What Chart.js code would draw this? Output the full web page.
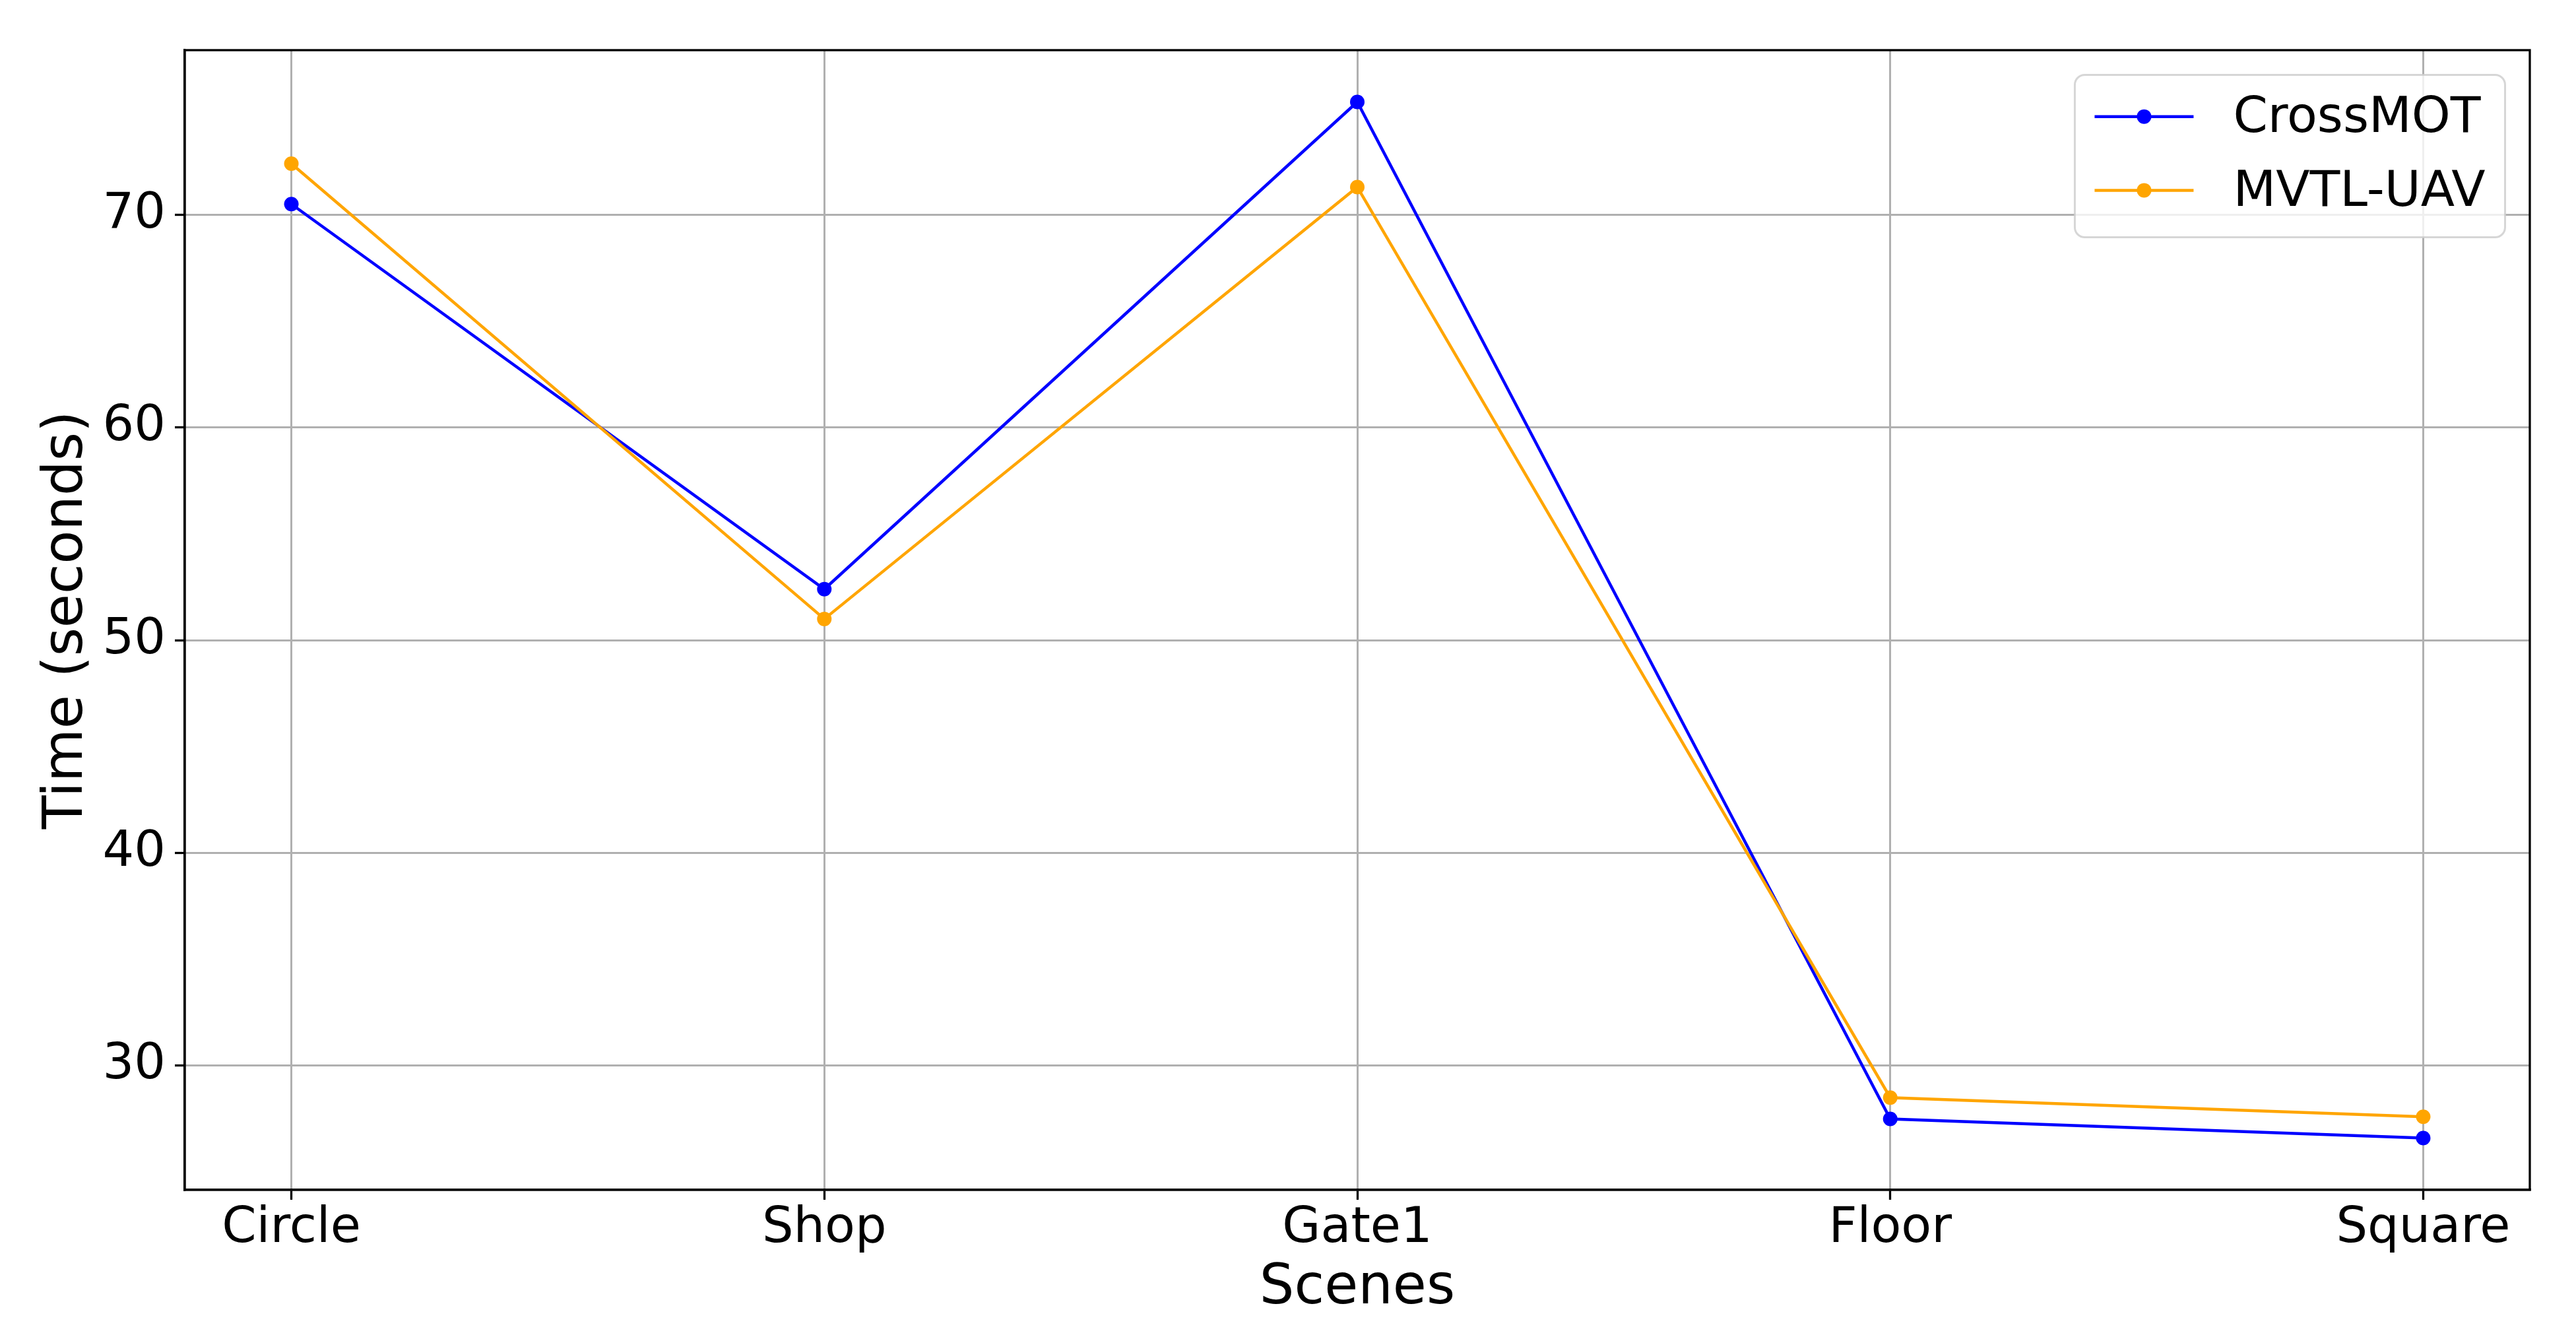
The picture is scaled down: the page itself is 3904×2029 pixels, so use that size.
<!DOCTYPE html>
<html>
<head>
<meta charset="utf-8">
<script src="https://cdn.jsdelivr.net/npm/chart.js@4.4.1/dist/chart.umd.min.js"></script>
<style>
  html, body { margin: 0; padding: 0; background: #fff; }
  canvas { display: block; }
</style>
</head>
<body>
<canvas id="chart" width="3904" height="2029"></canvas>
<script>
// Data
const scenes = ['Circle', 'Shop', 'Gate1', 'Floor', 'Square'];
const crossMot = [70.5, 52.4, 75.3, 27.5, 26.6];
const mvtlUav = [72.4, 51.0, 71.3, 28.5, 27.6];
const yTicks = [30, 40, 50, 60, 70];

// matplotlib-like 5% margins
const allVals = crossMot.concat(mvtlUav);
const yLo = Math.min(...allVals), yHi = Math.max(...allVals);
const yPad = (yHi - yLo) * 0.05;
const xPad = (scenes.length - 1) * 0.05;

const FONT = '"DejaVu Sans", sans-serif';
const tickFont = { family: FONT, size: 75 };
const titleFont = { family: FONT, size: 83 };

const toPoints = (vals) => vals.map((v, i) => ({ x: i, y: v }));

// Frame on all four sides (matplotlib spines)
const frame = {
    id: 'frame',
    afterDatasetsDraw(chart) {
        const { ctx, chartArea: a } = chart;
        ctx.save();
        ctx.strokeStyle = '#000';
        ctx.lineWidth = 3.3;
        ctx.strokeRect(a.left, a.top, a.right - a.left, a.bottom - a.top);
        ctx.restore();
    }
};

// Legend box in the upper right corner of the plot
const legendBox = {
    id: 'legendBox',
    afterDraw(chart) {
        const { ctx, chartArea: area } = chart;
        const fs = 75;
        const sets = chart.data.datasets;
        ctx.save();
        ctx.font = fs + 'px ' + FONT;
        const textW = Math.max(...sets.map(d => ctx.measureText(d.label).width));
        const pad = 0.4 * fs, handle = 2 * fs, gap = 0.8 * fs, rowH = fs * 0.99, spacing = 0.5 * fs;
        const w = pad * 2 + handle + gap + textW;
        const h = pad * 2 + rowH * sets.length + spacing * (sets.length - 1);
        const x = area.right - 0.5 * fs - w;
        const y = area.top + 0.5 * fs;

        ctx.beginPath();
        ctx.roundRect(x, y, w, h, 0.2 * fs);
        ctx.fillStyle = 'rgba(255,255,255,0.8)';
        ctx.fill();
        ctx.strokeStyle = 'rgba(204,204,204,0.8)';
        ctx.lineWidth = 3;
        ctx.stroke();

        sets.forEach((d, i) => {
            const cy = y + pad + rowH / 2 + i * (rowH + spacing) - 4;
            ctx.strokeStyle = d.borderColor;
            ctx.lineWidth = d.borderWidth;
            ctx.beginPath();
            ctx.moveTo(x + pad, cy);
            ctx.lineTo(x + pad + handle, cy);
            ctx.stroke();
            ctx.fillStyle = d.backgroundColor;
            ctx.beginPath();
            ctx.arc(x + pad + handle / 2, cy, d.pointRadius, 0, Math.PI * 2);
            ctx.fill();
            ctx.fillStyle = '#000';
            ctx.textBaseline = 'middle';
            ctx.textAlign = 'left';
            ctx.fillText(d.label, x + pad + handle + gap, cy + 4);
        });
        ctx.restore();
    }
};

const ctx = document.getElementById('chart').getContext('2d');

new Chart(ctx, {
    type: 'line',
    data: {
        datasets: [{
            label: 'CrossMOT',
            data: toPoints(crossMot),
            borderColor: '#0000ff',
            backgroundColor: '#0000ff',
            borderWidth: 4.5,
            pointRadius: 11,
            pointBorderWidth: 0,
            tension: 0,
            order: 1
        }, {
            label: 'MVTL-UAV',
            data: toPoints(mvtlUav),
            borderColor: '#ffa500',
            backgroundColor: '#ffa500',
            borderWidth: 4.5,
            pointRadius: 11,
            pointBorderWidth: 0,
            tension: 0,
            order: 0
        }]
    },
    options: {
        responsive: false,
        devicePixelRatio: 1,
        animation: false,
        layout: {
            padding: { top: 76, right: 70, left: 0, bottom: 0 }
        },
        plugins: {
            legend: { display: false },
            tooltip: { enabled: false }
        },
        scales: {
            x: {
                type: 'linear',
                min: -xPad,
                max: scenes.length - 1 + xPad,
                afterBuildTicks: (scale) => {
                    scale.ticks = scenes.map((_, i) => ({ value: i }));
                },
                afterFit: (scale) => { scale.height = 226; },
                ticks: {
                    font: tickFont,
                    color: '#000',
                    padding: 0,
                    maxRotation: 0,
                    autoSkip: false,
                    callback: (v) => scenes[v]
                },
                grid: {
                    color: '#b0b0b0',
                    lineWidth: 3,
                    tickColor: '#000',
                    tickWidth: 3.3,
                    tickLength: 15
                },
                border: { color: '#000', width: 3.3 },
                title: {
                    display: true,
                    text: 'Scenes',
                    font: titleFont,
                    color: '#000',
                    padding: { top: 0, bottom: 26 }
                }
            },
            y: {
                min: yLo - yPad,
                max: yHi + yPad,
                afterBuildTicks: (scale) => {
                    scale.ticks = yTicks.map(v => ({ value: v }));
                },
                afterFit: (scale) => { scale.width = 280; },
                ticks: {
                    font: tickFont,
                    color: '#000',
                    padding: 14
                },
                grid: {
                    color: '#b0b0b0',
                    lineWidth: 3,
                    tickColor: '#000',
                    tickWidth: 3.3,
                    tickLength: 15
                },
                border: { color: '#000', width: 3.3 },
                title: {
                    display: true,
                    text: 'Time (seconds)',
                    font: titleFont,
                    color: '#000',
                    padding: { top: 53, bottom: 0 }
                }
            }
        }
    },
    plugins: [frame, legendBox]
});
</script>
</body>
</html>
